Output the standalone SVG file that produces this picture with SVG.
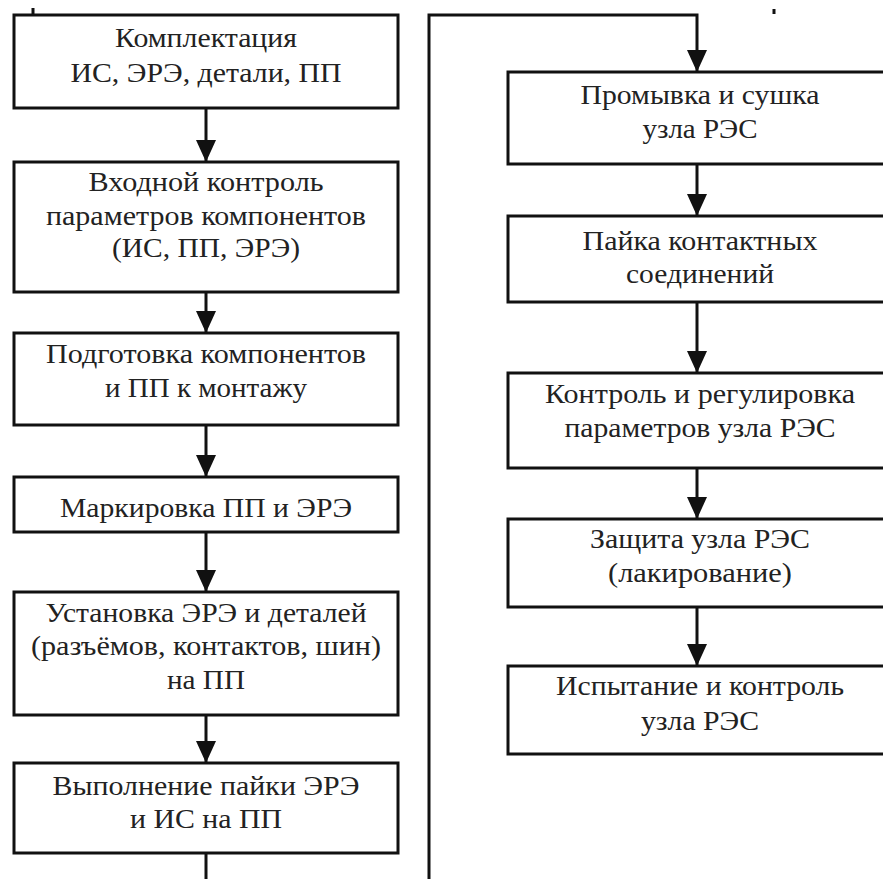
<svg xmlns="http://www.w3.org/2000/svg" width="883" height="879" viewBox="0 0 883 879">
<defs>
<style>
.box{fill:#fff;stroke:#111;stroke-width:3}
.t{font-size:27px;fill:#222;text-anchor:middle}
.c{fill:none;stroke:#111;stroke-width:3}
</style>
<marker id="ah" viewBox="0 0 22 20" refX="22" refY="10" markerWidth="22" markerHeight="20" markerUnits="userSpaceOnUse" orient="auto">
<path d="M0,0 L22,10 L0,20 z" fill="#111"/>
</marker>
</defs>
<rect width="883" height="879" fill="#fff"/>
<g id="connectors">
<line class="c" x1="206" y1="108" x2="206" y2="162" marker-end="url(#ah)"/>
<line class="c" x1="206" y1="292" x2="206" y2="333" marker-end="url(#ah)"/>
<line class="c" x1="206" y1="425" x2="206" y2="477" marker-end="url(#ah)"/>
<line class="c" x1="206" y1="532" x2="206" y2="592" marker-end="url(#ah)"/>
<line class="c" x1="206" y1="715" x2="206" y2="763" marker-end="url(#ah)"/>
<line class="c" x1="206" y1="853" x2="206" y2="879"/>
<path class="c" d="M429,879 L429,15 L697,15 L697,72" marker-end="url(#ah)"/>
<line class="c" x1="697" y1="164" x2="697" y2="216" marker-end="url(#ah)"/>
<line class="c" x1="697" y1="302" x2="697" y2="373" marker-end="url(#ah)"/>
<line class="c" x1="697" y1="468" x2="697" y2="519" marker-end="url(#ah)"/>
<line class="c" x1="697" y1="607" x2="697" y2="666" marker-end="url(#ah)"/>
<line class="c" x1="33" y1="8" x2="33" y2="15"/>
<line class="c" x1="774" y1="9" x2="774" y2="14"/>
</g>
<g id="nodes" font-family="Liberation Serif, DejaVu Serif, serif">
<g id="n1"><rect class="box" x="14" y="15" width="384" height="93"/>
<text class="t" x="206" y="47" textLength="182" lengthAdjust="spacingAndGlyphs">Комплектация</text>
<text class="t" x="206" y="82" textLength="271" lengthAdjust="spacingAndGlyphs">ИС, ЭРЭ, детали, ПП</text></g>
<g id="n2"><rect class="box" x="14" y="162" width="384" height="130"/>
<text class="t" x="206" y="191" textLength="235" lengthAdjust="spacingAndGlyphs">Входной контроль</text>
<text class="t" x="206" y="225" textLength="320" lengthAdjust="spacingAndGlyphs">параметров компонентов</text>
<text class="t" x="206" y="257" textLength="188" lengthAdjust="spacingAndGlyphs">(ИС, ПП, ЭРЭ)</text></g>
<g id="n3"><rect class="box" x="14" y="333" width="384" height="92"/>
<text class="t" x="206" y="363" textLength="320" lengthAdjust="spacingAndGlyphs">Подготовка компонентов</text>
<text class="t" x="206" y="397" textLength="202" lengthAdjust="spacingAndGlyphs">и ПП к монтажу</text></g>
<g id="n4"><rect class="box" x="14" y="477" width="384" height="55"/>
<text class="t" x="206" y="517" textLength="292" lengthAdjust="spacingAndGlyphs">Маркировка ПП и ЭРЭ</text></g>
<g id="n5"><rect class="box" x="14" y="592" width="384" height="123"/>
<text class="t" x="206" y="622" textLength="321" lengthAdjust="spacingAndGlyphs">Установка ЭРЭ и деталей</text>
<text class="t" x="206" y="655" textLength="350" lengthAdjust="spacingAndGlyphs">(разъёмов, контактов, шин)</text>
<text class="t" x="206" y="689" textLength="78" lengthAdjust="spacingAndGlyphs">на ПП</text></g>
<g id="n6"><rect class="box" x="14" y="763" width="384" height="90"/>
<text class="t" x="206" y="795" textLength="307" lengthAdjust="spacingAndGlyphs">Выполнение пайки ЭРЭ</text>
<text class="t" x="206" y="828" textLength="152" lengthAdjust="spacingAndGlyphs">и ИС на ПП</text></g>
<g id="r1"><rect class="box" x="508" y="72" width="384" height="92"/>
<text class="t" x="700" y="104" textLength="239" lengthAdjust="spacingAndGlyphs">Промывка и сушка</text>
<text class="t" x="700" y="138" textLength="115" lengthAdjust="spacingAndGlyphs">узла РЭС</text></g>
<g id="r2"><rect class="box" x="508" y="216" width="384" height="86"/>
<text class="t" x="700" y="250" textLength="235" lengthAdjust="spacingAndGlyphs">Пайка контактных</text>
<text class="t" x="700" y="283" textLength="148" lengthAdjust="spacingAndGlyphs">соединений</text></g>
<g id="r3"><rect class="box" x="508" y="373" width="384" height="95"/>
<text class="t" x="700" y="403" textLength="310" lengthAdjust="spacingAndGlyphs">Контроль и регулировка</text>
<text class="t" x="700" y="437" textLength="271" lengthAdjust="spacingAndGlyphs">параметров узла РЭС</text></g>
<g id="r4"><rect class="box" x="508" y="519" width="384" height="88"/>
<text class="t" x="700" y="548" textLength="220" lengthAdjust="spacingAndGlyphs">Защита узла РЭС</text>
<text class="t" x="700" y="582" textLength="184" lengthAdjust="spacingAndGlyphs">(лакирование)</text></g>
<g id="r5"><rect class="box" x="508" y="666" width="384" height="88"/>
<text class="t" x="700" y="695" textLength="288" lengthAdjust="spacingAndGlyphs">Испытание и контроль</text>
<text class="t" x="700" y="730" textLength="118" lengthAdjust="spacingAndGlyphs">узла РЭС</text></g>
</g>
</svg>
